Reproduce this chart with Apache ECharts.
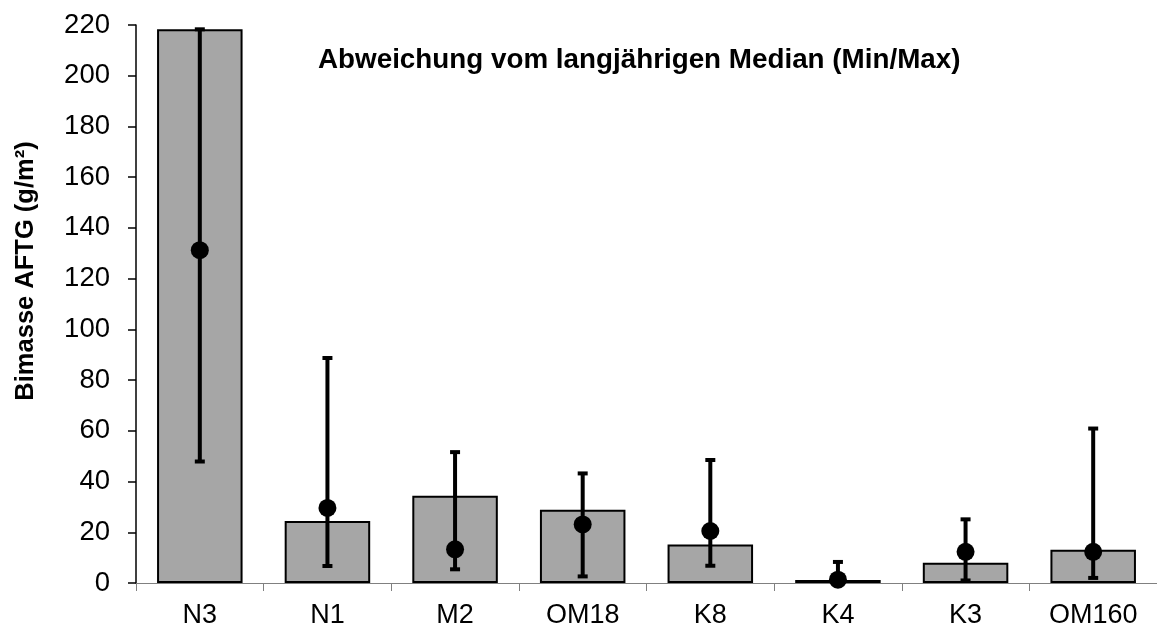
<!DOCTYPE html>
<html>
<head>
<meta charset="utf-8">
<style>html,body{margin:0;padding:0;background:#fff;}#c{width:1157px;height:629px;}</style>
<script src="https://cdn.jsdelivr.net/npm/echarts@6/dist/echarts.min.js"></script>
</head>
<body>
<div id="c"></div>
<script>
const categories = ['N3','N1','M2','OM18','K8','K4','K3','OM160'];
const deviation = [218.3, 24.4, 34.4, 28.9, 15.2, 1.2, 8.0, 13.1];
const median = [131.2, 29.6, 13.3, 23.1, 20.5, 1.3, 12.3, 12.3];
const minVals = [47.9, 6.7, 5.4, 2.6, 6.8, 0.0, 1.0, 2.0];
const maxVals = [218.3, 88.7, 51.6, 43.2, 48.5, 8.3, 25.1, 60.9];
const yTicks = [0,20,40,60,80,100,120,140,160,180,200,220];
const titleText = 'Abweichung vom langjährigen Median (Min/Max)';
const yName = 'Bimasse AFTG (g/m²)';

const FONT = '"Liberation Sans", Arial, sans-serif';
const chart = echarts.init(document.getElementById('c'));
const errData = categories.map((c, i) => [i, minVals[i], maxVals[i]]);

chart.setOption({
  animation: false,
  backgroundColor: '#fff',
  grid: { left: 136, right: 0, top: 25, bottom: 45 },
  graphic: [
    { type: 'text', x: 318, y: 60,
      style: { text: titleText, font: 'bold 27.8px ' + FONT, fill: '#000', align: 'left', verticalAlign: 'middle' } },
    { type: 'text', x: 26, y: 271, rotation: Math.PI / 2,
      style: { text: yName, font: 'bold 25.5px ' + FONT, fill: '#000', align: 'center', verticalAlign: 'middle' } }
  ],
  xAxis: {
    type: 'category',
    data: categories,
    axisLine: { lineStyle: { color: '#808080', width: 1 } },
    axisTick: { show: true, alignWithLabel: false, length: 8, lineStyle: { color: '#808080', width: 1 } },
    axisLabel: { color: '#000', fontFamily: FONT, fontSize: 27, margin: 19 },
    splitLine: { show: false }
  },
  yAxis: {
    type: 'value',
    min: 0, max: 220, interval: 20,
    axisLine: { show: true, lineStyle: { color: '#000', width: 1.5 } },
    axisTick: { show: true, length: 8, lineStyle: { color: '#000', width: 1.5 } },
    axisLabel: { color: '#000', fontFamily: FONT, fontSize: 27.5, margin: 26,
      formatter: v => yTicks.includes(v) ? String(v) : '' },
    splitLine: { show: false }
  },
  series: [
    {
      type: 'bar',
      data: deviation,
      barCategoryGap: '33%',
      itemStyle: { color: '#a6a6a6', borderColor: '#000', borderWidth: 2 },
      z: 2
    },
    {
      type: 'custom',
      data: errData,
      z: 3,
      renderItem: function (params, api) {
        const x = api.value(0);
        const lo = api.coord([x, api.value(1)]);
        const hi = api.coord([x, api.value(2)]);
        const cw = 5;
        const st = { stroke: '#000', lineWidth: 4 };
        return {
          type: 'group',
          children: [
            { type: 'line', shape: { x1: lo[0], y1: lo[1], x2: hi[0], y2: hi[1] }, style: st },
            { type: 'line', shape: { x1: lo[0] - cw, y1: lo[1], x2: lo[0] + cw, y2: lo[1] }, style: st },
            { type: 'line', shape: { x1: hi[0] - cw, y1: hi[1], x2: hi[0] + cw, y2: hi[1] }, style: st }
          ]
        };
      }
    },
    {
      type: 'scatter',
      data: median,
      symbol: 'circle',
      symbolSize: 18,
      itemStyle: { color: '#000', opacity: 1 },
      z: 4
    }
  ]
});
</script>
</body>
</html>
